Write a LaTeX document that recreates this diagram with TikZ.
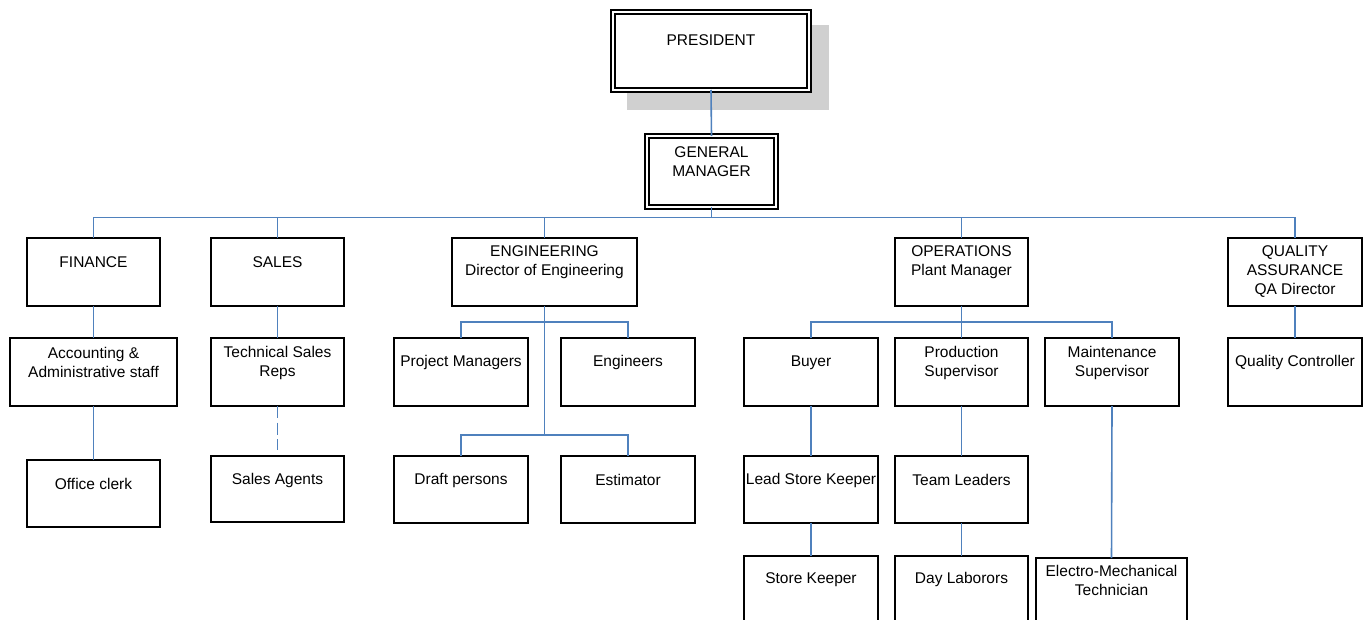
\documentclass[tikz,border=0pt]{standalone}
\usepackage{fontspec}
\setmainfont{Liberation Sans}
\definecolor{conncol}{HTML}{4F81BD}
\definecolor{shadowcol}{HTML}{D0D0D0}
\tikzset{
  orgbox/.style={draw=black, line width=1.3pt, fill=white, inner sep=0pt, outer sep=0pt},
  dblbox/.style={draw=black, line width=1.4pt, double=white, double distance=2.6pt, fill=white, inner sep=0pt, outer sep=0pt},
  txt/.style={inner sep=0pt, align=center, font=\fontsize{15.5}{19}\selectfont},
  conn/.style={draw=conncol, line width=1.6pt},
  dashconn/.style={conn, dash pattern=on 12pt off 4.5pt}
}
% name, x1, y1, x2, y2, text offset, text
\newcommand\obox[7]{%
  \node[orgbox, minimum width={#4-#2}, minimum height={#5-#3}] (#1) at ({(#2+#4)/2},{(#3+#5)/2}) {};
  \node[txt] (#1-t) at ({(#2+#4)/2},{#3+#6}) {#7};
}
\begin{document}
\begin{tikzpicture}[x=1pt,y=-1pt]
\useasboundingbox (0,0) rectangle (1364,620);

% shadow of president
\fill[shadowcol] (627,25) rectangle (829,110);
\node[dblbox, minimum width=196, minimum height=78] (pres) at (711,51) {};
\node[txt] (pres-t) at (711,40) {PRESIDENT};
\node[dblbox, minimum width=129, minimum height=71] (gm) at (711.5,171.5) {};
\node[txt] (gm-t) at (711.5,162) {GENERAL\\MANAGER};

% level 1
\obox{fin}{27}{238}{160}{306}{24.5}{FINANCE}
\obox{sal}{211}{238}{344}{306}{24.5}{SALES}
\obox{eng}{452}{238}{637}{306}{24.5}{ENGINEERING\\Director of Engineering}
\obox{ops}{895}{238}{1028}{306}{24.5}{OPERATIONS\\Plant Manager}
\obox{qa}{1228}{238}{1362}{306}{34}{QUALITY\\ASSURANCE\\QA Director}

% level 2
\obox{acc}{10}{338}{177}{406}{24.5}{Accounting \&\\Administrative staff}
\obox{tsr}{211}{338}{344}{406}{24.5}{Technical Sales\\Reps}
\obox{pm}{394}{338}{528}{406}{24.5}{Project Managers}
\obox{engr}{561}{338}{695}{406}{24.5}{Engineers}
\obox{buy}{744}{338}{878}{406}{24.5}{Buyer}
\obox{prod}{895}{338}{1028}{406}{24.5}{Production\\Supervisor}
\obox{maint}{1045}{338}{1179}{406}{24.5}{Maintenance\\Supervisor}
\obox{qc}{1228}{338}{1362}{406}{24.5}{Quality Controller}

% level 3
\obox{clerk}{27}{460}{160}{527}{24}{Office clerk}
\obox{agents}{211}{456}{344}{522}{24}{Sales Agents}
\obox{draft}{394}{456}{528}{523}{24}{Draft persons}
\obox{est}{561}{456}{695}{523}{24}{Estimator}
\obox{lsk}{744}{456}{878}{523}{24}{Lead Store Keeper}
\obox{team}{895}{456}{1028}{523}{24}{Team Leaders}

% level 4
\obox{sk}{744}{556}{878}{640}{23.5}{Store Keeper}
\obox{day}{895}{556}{1028}{640}{23.5}{Day Laborors}
\obox{emt}{1036}{558}{1187}{640}{22}{Electro-Mechanical\\Technician}

% coordinates
\coordinate (busL) at (93.5,217.5);
\coordinate (busR) at (1295,217.5);
\coordinate (ebr1) at (544.5,322);
\coordinate (ebr2) at (544.5,435);
\coordinate (obr) at (961.5,322);
\coordinate (agentsgap) at (277.5,450);

% connectors
\draw[conn] (pres.south) -- (gm.north);
\draw[conn] (busL) -- (busR);
\draw[conn] (gm.south) -- (gm.south |- busL);
\draw[conn] (fin.north) -- (fin.north |- busL);
\draw[conn] (sal.north) -- (sal.north |- busL);
\draw[conn] (eng.north) -- (eng.north |- busL);
\draw[conn] (ops.north) -- (ops.north |- busL);
\draw[conn] (qa.north) -- (qa.north |- busL);

\draw[conn] (fin.south) -- (acc.north);
\draw[conn] (acc.south) -- (clerk.north);
\draw[conn] (sal.south) -- (tsr.north);
\draw[dashconn] (tsr.south) -- (agentsgap);

\draw[conn] (eng.south) -- (ebr2);
\draw[conn] (pm.north) |- (ebr1) -| (engr.north);
\draw[conn] (draft.north) |- (ebr2) -| (est.north);

\draw[conn] (ops.south) -- (prod.north);
\draw[conn] (buy.north) |- (obr) -| (maint.north);
\draw[conn] (buy.south) -- (lsk.north);
\draw[conn] (lsk.south) -- (sk.north);
\draw[conn] (prod.south) -- (team.north);
\draw[conn] (team.south) -- (day.north);
\draw[conn] (maint.south) -- (emt.north);

\draw[conn] (qa.south) -- (qc.north);
\end{tikzpicture}
\end{document}
